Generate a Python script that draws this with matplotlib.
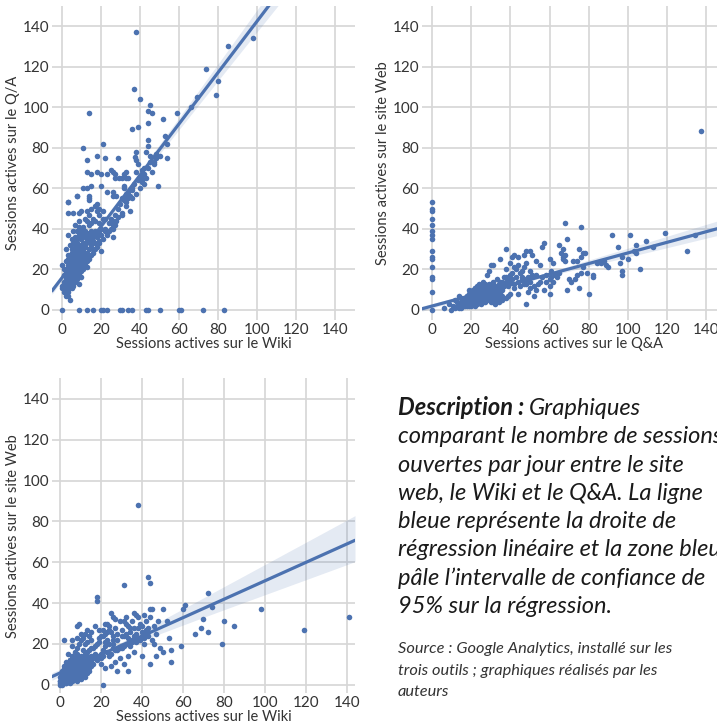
import numpy as np
import matplotlib
matplotlib.use("Agg")
import matplotlib.pyplot as plt
import seaborn as sns

# ---------------- data ----------------
# Panel 1 : Wiki (x) vs Q/A (y)
wiki_qa_x = [38, 37, 40, 14, 45, 44, 46, 52, 59, 44, 36, 39, 44, 44, 53, 21, 11, 13, 18, 22, 29, 38, 37.5, 38, 39, 43, 45, 54,
             13, 15, 18, 20, 23, 25, 26, 27, 29.5, 32, 33, 31, 33, 38, 41, 41.5, 27, 11, 13, 15, 20, 23, 26, 28, 31.6, 32, 34,
             40.5, 49, 8, 3, 14, 14, 18, 31, 33, 36, 41, 36, 42, 45, 48, 54, 50, 66, 69, 74, 79, 80, 85, 98, 40, 42, 47,
             0, 9, 13, 16, 20, 21, 23, 30, 31, 34, 36, 43, 44, 50, 60, 61, 72, 83,
             3, 8, 14, 26, 32, 34, 3, 6, 9, 10, 13, 15, 17, 19, 18, 21, 14, 12, 9, 7, 9, 11, 14, 15, 19, 6, 8, 10, 13, 15, 17,
             3, 5, 8, 10, 13, 16, 7, 4, 2, 5, 9, 11, 14, 20, 26, 26, 26, 26, 35, 33, 3, 6, 9, 11, 14, 4, 7, 9, 3, 6, 9, 3, 5,
             8, 10, 3, 6, 3, 5, 2, 4, 0, 3, 2, 3, 4, 2, 1, 0, 1, 9,
             5, 7, 8, 10, 12, 6, 8, 10, 12, 4, 7, 11, 12, 13, 15, 16, 18, 20, 22, 24, 19, 17, 21, 11, 9, 7, 6, 5, 2, 4, 6, 7,
             8, 10, 14, 12, 16, 19, 22, 13,
             1, 2, 2, 3, 3, 3, 4, 4, 4, 4, 5, 5, 5, 5, 5, 6, 6, 6, 6, 6, 7, 7, 7, 7, 7, 8, 8, 8, 8, 8, 9, 9, 9, 9, 10, 10, 10,
             10, 11, 11, 11, 12, 12, 12, 13, 13, 14, 14, 15, 16, 2, 3, 4, 5, 6, 7, 8, 9, 10, 11, 4, 5, 6, 7, 8, 9, 6, 7, 8,
             16, 17, 18, 19, 20, 22, 23, 24, 25, 27, 28, 29, 30, 31, 32, 33, 34, 35, 36, 37, 38, 39, 40, 41, 42, 43, 44, 46,
             47, 48,
             2, 3, 3, 4, 4, 5, 5, 5, 6, 6, 6, 7, 7, 7, 8, 8, 8, 9, 9, 9, 10, 10, 11, 11, 12, 12, 13, 13, 14, 15, 2, 3, 4, 5,
             6, 7, 8, 1, 1, 0, 16, 17, 18, 19, 21, 23, 25, 27, 29, 31]
wiki_qa_y = [137, 109, 104, 97, 101, 98, 97, 94, 97, 92, 89, 90, 84, 81, 86, 82, 80, 74, 76, 75, 75, 78, 75.6, 74, 72, 78, 76, 75,
             68, 67, 68, 67, 67, 69, 68, 67, 65, 67, 68, 65, 65, 68, 69, 67, 65, 60, 60, 61, 61, 58, 58, 56, 60, 61, 65,
             65, 61, 56, 53, 56, 54, 52, 55, 57, 59, 64, 55, 70, 73, 77, 82, 76, 100, 105, 119, 106, 113, 130, 134, 60, 62, 73,
             0, 0, 0, 0, 0, 0, 0, 0, 0, 0, 0, 0, 0, 0, 0, 0, 0, 0,
             53, 56, 55, 56, 55, 55, 48, 48, 48, 49, 49, 50, 51, 50, 49, 49, 47, 45, 44, 42, 41, 41, 42, 43, 43, 39, 39, 39, 38, 39, 39,
             37, 35, 35, 35, 34, 34, 33, 32, 30, 30, 30, 30, 30, 29, 36, 42, 40, 44, 49, 53, 27, 27, 26, 26, 26, 25, 25, 24, 22, 22, 21, 20, 20,
             19, 16, 17, 16, 15, 14, 12, 12, 11, 10, 7, 7, 5, 24, 20, 22, 17, 13,
             28, 29, 31, 32, 33, 24, 22, 25, 28, 19, 21, 22, 24, 27, 32, 36, 38, 40, 39, 39, 39, 44, 45, 37, 37, 36, 33, 26, 18, 14, 12, 17,
             27, 28, 36, 39, 45, 47, 45, 44,
             14, 16, 19, 18, 21, 25, 17, 20, 23, 27, 15, 19, 22, 24, 28, 18, 21, 23, 26, 30, 20, 22, 24, 27, 31, 19, 23, 25, 28, 33,
             22, 26, 29, 32, 24, 27, 30, 35, 25, 29, 33, 26, 31, 36, 28, 34, 30, 37, 33, 38, 15, 17, 18, 20, 19, 21, 20, 22, 23, 24,
             13, 12, 14, 16, 17, 18, 25, 26, 21,
             30, 33, 36, 34, 37, 40, 38, 43, 45, 47, 44, 50, 52, 48, 54, 51, 58, 56, 60, 62, 57, 64, 66, 63, 67, 65, 70, 68, 72, 75,
             10, 12, 9, 13, 16, 11, 14, 17, 13, 15, 18, 14, 16, 20, 15, 18, 21, 17, 20, 23, 19, 22, 20, 24, 22, 26, 24, 21, 25, 27,
             14, 16, 18, 20, 20, 23, 24, 9, 13, 12, 28, 30, 31, 33, 35, 37, 40, 42, 46, 47]

# Panel 2 : Q&A (x) vs site Web (y)
qa_web_x = [0, 0, 0, 0, 0, 0, 0, 0, 0, 0, 0, 0, 0, 0, 0, 0,
            137,
            68, 76, 69, 57, 56, 65, 67, 75, 92, 101, 109, 119, 134, 104, 95, 130, 113, 84, 86, 89, 88, 90, 96, 97, 100, 103,
            104, 97, 97, 106, 82, 82, 80, 69, 75, 73, 70, 74, 76, 77, 79, 71, 78, 77, 76, 72, 74, 68, 67, 67, 68, 66, 62, 60,
            38, 42, 41, 44, 48, 50, 51, 47, 53, 55, 65, 63, 61, 60, 60, 60, 58, 56, 55, 54, 52, 53, 52, 50, 49, 48, 47, 46,
            45, 44, 43, 41, 40, 39, 38, 37, 36, 35, 34, 33, 32, 31, 30, 29, 28, 27, 26, 25, 24, 23, 22, 21, 20, 19, 18, 17,
            16, 15, 14, 13, 12, 11, 10, 6, 9, 28, 30, 31, 29, 35, 38, 40, 42, 46, 47, 48, 49, 50, 51, 53, 58, 61, 62, 64, 57,
            44, 42, 39, 36, 34,
            18, 19, 20, 21, 22, 23, 24, 25, 26, 27, 22, 20, 17, 16, 18, 21, 23, 25, 27, 28, 29, 30, 31, 33, 32, 34, 35, 37,
            24, 26, 19, 15, 14,
            14, 15, 16, 16, 17, 17, 18, 18, 18, 19, 19, 19, 20, 20, 20, 20, 21, 21, 21, 21, 22, 22, 22, 22, 23, 23, 23, 24, 24,
            24, 25, 25, 25, 26, 26, 26, 27, 27, 28, 28, 29, 29, 30, 30, 31, 32, 33, 34, 35, 36, 17, 19, 21, 23, 25, 27, 29, 31,
            33, 22, 24, 26, 20, 18, 16,
            14, 15, 16, 17, 17, 18, 18, 19, 19, 20, 20, 21, 21, 22, 22, 23, 23, 24, 24, 25, 25, 26, 26, 27, 27, 28, 28, 29,
            30, 30, 31, 32, 33, 34, 35, 36, 38, 40, 13, 12,
            25, 27, 29, 30, 31, 32, 33, 34, 35, 36, 37, 38, 39, 40, 41, 42, 43, 44, 45, 46, 47, 48, 49, 50, 26]
qa_web_y = [0, 9, 15, 16, 21, 25, 26, 29, 35, 37, 39, 42, 45, 49, 50, 53,
            88,
            43, 41, 35, 33, 31, 32, 30, 30, 37, 37, 34, 38, 37, 32, 31, 29, 31, 23, 23, 22, 24, 21, 23, 26, 25, 29,
            28, 19, 17, 20, 17, 16, 8, 10, 11, 15, 15, 17, 18, 21, 18, 14, 28, 28, 26, 24, 24, 27, 26, 25, 24, 28, 23, 25,
            30, 27, 26, 26, 29, 29, 27, 27, 24, 22, 18, 17, 19, 15, 12, 8, 17, 16, 14, 13, 12, 10, 7, 11, 9, 3, 13, 15,
            18, 22, 20, 18, 17, 15, 14, 12, 11, 9, 7, 5, 3, 4, 6, 9, 11, 13, 14, 12, 10, 9, 8, 7, 6, 5, 4, 3,
            2, 1, 3, 4, 5, 2, 0, 1, 3, 17, 22, 22, 19, 25, 20, 23, 21, 19, 21, 23, 16, 19, 17, 17, 14, 16, 14, 16, 10,
            8, 11, 7, 5, 4,
            7, 8, 9, 10, 11, 6, 7, 8, 9, 10, 5, 3, 6, 5, 2, 4, 12, 5, 7, 8, 12, 10, 13, 11, 8, 12, 14, 16,
            13, 4, 10, 6, 7,
            2, 4, 3, 5, 4, 6, 3, 5, 7, 4, 6, 8, 5, 7, 9, 3, 6, 8, 4, 10, 5, 7, 9, 11, 6, 8, 10, 7, 9,
            12, 6, 8, 11, 7, 10, 13, 8, 12, 9, 11, 7, 10, 8, 12, 9, 10, 11, 9, 12, 10, 5, 6, 7, 5, 6, 9, 6, 7,
            8, 6, 5, 6, 4, 3, 4,
            1, 3, 2, 2, 4, 3, 5, 2, 4, 2, 4, 3, 5, 2, 4, 3, 5, 4, 6, 3, 6, 5, 7, 4, 6, 5, 7, 6,
            4, 7, 6, 5, 7, 6, 8, 7, 6, 8, 2, 1,
            11, 12, 13, 11, 14, 12, 15, 13, 11, 14, 13, 16, 12, 14, 15, 13, 16, 14, 12, 16, 15, 13, 15, 14, 10]

# Panel 3 : Wiki (x) vs site Web (y)
wiki_web_x = [38, 43, 44, 31, 18, 18, 72, 61, 60, 50, 44, 45, 36, 37, 25, 26, 27, 22, 23, 17, 8, 9, 31, 32, 34, 38, 40, 42, 43,
              98, 80, 85, 70, 69, 72, 66, 59, 79, 119, 141, 74, 2, 52, 53, 54, 54, 44, 47, 49, 50, 45, 41, 40, 36, 35, 33,
              33, 31, 28, 33, 21, 22, 25, 27, 29, 28, 26, 24, 21, 20, 19, 18, 17, 16, 15, 14, 13, 12, 11, 12, 11, 10, 9, 8,
              7, 6, 5, 4, 3, 2, 1, 0, 1,
              2, 3, 4, 5, 6, 7, 8, 9, 10, 5, 6, 7, 8, 9, 10, 11, 12, 13, 14, 15, 3, 4, 6, 8, 10, 12, 14, 16, 18, 20, 13, 15,
              17, 19, 21, 23, 11, 9, 7, 5, 3, 2, 1, 4, 6, 10, 12, 14, 16, 20, 24, 26, 30, 32, 36, 38, 40, 42, 46, 34, 30, 22,
              28, 24, 19, 15, 13, 8, 6,
              0, 1, 1, 2, 2, 2, 3, 3, 3, 3, 4, 4, 4, 4, 5, 5, 5, 5, 5, 6, 6, 6, 6, 7, 7, 7, 7, 8, 8, 8, 8, 9, 9, 9, 10, 10, 10,
              11, 11, 12, 12, 13, 13, 14, 15, 16, 1, 2, 3, 4, 5, 6, 7, 8, 9, 10, 11, 12, 3, 4, 5, 6, 7, 8, 9, 2, 4, 6, 8,
              15, 17, 19, 21, 23, 25, 27, 29, 31, 33, 35, 37, 39, 41, 43,
              0, 0, 1, 1, 1, 2, 2, 2, 3, 3, 3, 4, 4, 4, 5, 5, 5, 5, 6, 6, 6, 7, 7, 7, 8, 8, 8, 9, 9, 10, 10, 11, 11, 12, 12,
              13, 14, 15, 2, 3, 4, 6, 8, 10, 12, 1, 0, 2, 4, 6,
              20, 21, 22, 23, 24, 25, 26, 27, 28, 29, 30, 31, 32, 33, 34, 35, 36, 37, 38, 39, 40, 41, 42, 43, 44, 46, 47, 48,
              22, 26]
wiki_web_y = [88, 53, 50, 49, 43, 41, 45, 39, 37, 37, 37, 37, 35, 34, 35, 33, 32, 30, 30, 29, 29, 30, 31, 30, 28, 28, 29, 27, 28,
              37, 31, 29, 32, 28, 26, 25, 19, 20, 27, 33, 38, 22, 31, 23, 17, 11, 10, 14, 18, 16, 22, 20, 14, 16, 22, 23,
              14, 10, 7, 7, 0, 8, 9, 11, 13, 17, 18, 20, 17, 15, 21, 20, 15, 18, 22, 24, 27, 25, 23, 20, 17, 14, 12, 15,
              10, 8, 9, 7, 5, 4, 2, 1, 3,
              6, 8, 10, 12, 14, 16, 18, 20, 22, 4, 5, 6, 7, 8, 9, 10, 11, 12, 13, 14, 2, 3, 3, 4, 5, 6, 8, 10, 12, 13, 16, 18,
              19, 23, 24, 26, 13, 10, 12, 6, 11, 9, 7, 15, 19, 25, 15, 17, 14, 10, 14, 24, 24, 25, 24, 22, 26, 24, 20, 19, 18, 21,
              22, 27, 27, 26, 21, 23, 22,
              2, 1, 4, 2, 5, 7, 1, 3, 6, 9, 2, 4, 6, 10, 3, 5, 7, 9, 12, 2, 4, 8, 11, 3, 6, 9, 13, 4, 7, 10, 14, 5, 8, 12, 6, 9, 13,
              7, 11, 8, 12, 9, 14, 10, 11, 13, 3, 3, 4, 5, 6, 5, 7, 8, 6, 8, 9, 10, 2, 3, 4, 4, 5, 6, 7, 1, 2, 3, 5,
              12, 13, 14, 14, 16, 15, 17, 18, 19, 20, 21, 21, 22, 23, 24,
              0, 2, 1, 3, 5, 2, 3, 6, 1, 4, 7, 2, 5, 8, 1, 3, 6, 8, 2, 4, 7, 3, 5, 8, 2, 5, 8, 4, 6, 3, 7, 5, 8, 4, 9,
              6, 7, 9, 1, 3, 4, 6, 6, 10, 7, 0, 4, 8, 9, 10,
              24, 27, 25, 22, 29, 26, 22, 28, 25, 31, 27, 24, 33, 29, 26, 31, 28, 25, 33, 30, 24, 34, 31, 26, 33, 29, 25, 31,
              19, 20]

ticks = [0, 20, 40, 60, 80, 100, 120, 140]
label_wiki = "Sessions actives sur le Wiki"
label_qa_y = "Sessions actives sur le Q/A"
label_qa_x = "Sessions actives sur le Q&A"
label_web = "Sessions actives sur le site Web"


# ---------------- robust (Huber) linear regression, as seaborn's robust=True ----------------
def huber_fit(x, y, t=1.345, iters=30):
    X = np.column_stack([np.ones_like(x), x])
    beta = np.linalg.lstsq(X, y, rcond=None)[0]
    for _ in range(iters):
        r = y - X @ beta
        s = np.median(np.abs(r - np.median(r))) / 0.6745
        if s <= 0:
            break
        u = np.abs(r / s)
        w = np.where(u <= t, 1.0, t / np.maximum(u, 1e-12))
        sw = np.sqrt(w)
        beta = np.linalg.lstsq(X * sw[:, None], y * sw, rcond=None)[0]
    return beta


def robust_band(x, y, grid, n_boot=300, seed=3):
    rng = np.random.default_rng(seed)
    beta = huber_fit(x, y)
    yhat = beta[0] + beta[1] * grid
    boots = []
    n = len(x)
    for _ in range(n_boot):
        idx = rng.integers(0, n, n)
        b = huber_fit(x[idx], y[idx], iters=15)
        boots.append(b[0] + b[1] * grid)
    boots = np.array(boots)
    lo, hi = np.percentile(boots, [2.5, 97.5], axis=0)
    return yhat, lo, hi


# ---------------- style ----------------
sns.set_style("whitegrid")
plt.rcParams["font.family"] = ["Lato", "DejaVu Sans"]

BLUE = "#4c72b0"
GRID = "#d6d6d6"
TXT = "#333333"

fig = plt.figure(figsize=(7.17, 7.27), dpi=100)

panels = [
    (wiki_qa_x, wiki_qa_y, [0.0725, 0.5598, 0.4226, 0.4323], (-5, 150), (-5, 150), label_wiki, label_qa_y),
    (qa_web_x, qa_web_y, [0.5886, 0.5598, 0.4240, 0.4323], (-5, 150), (-5, 150), label_qa_x, label_web),
    (wiki_web_x, wiki_web_y, [0.0725, 0.0468, 0.4226, 0.4326], (-4, 144), (-4, 150), label_wiki, label_web),
]

for x, y, rect, xl, yl, xlab, ylab in panels:
    x = np.asarray(x, float)
    y = np.asarray(y, float)
    ax = fig.add_axes(rect)
    ax.scatter(x, y, s=16, color=BLUE, linewidths=0, zorder=2)
    grid = np.linspace(xl[0], xl[1], 100)
    yhat, lo, hi = robust_band(x, y, grid)
    ax.fill_between(grid, lo, hi, color=BLUE, alpha=0.15, linewidth=0, zorder=1)
    ax.plot(grid, yhat, color=BLUE, lw=2.3, zorder=3)
    ax.set_xlim(*xl)
    ax.set_ylim(*yl)
    ax.set_xticks(ticks)
    ax.set_yticks(ticks)
    for s in ax.spines.values():
        s.set_visible(False)
    ax.grid(True, color=GRID, lw=1.2)
    ax.set_axisbelow(True)
    ax.tick_params(length=0, pad=2, labelsize=11, labelcolor=TXT)
    ax.set_xlabel(xlab, fontsize=10.5, color=TXT, labelpad=0)
    ax.set_ylabel(ylab, fontsize=10.5, color=TXT, labelpad=2)

# ---------------- description text ----------------
W, H = 717.0, 727.0

def px(x, y):
    return x / W, 1 - y / H

desc_lines = [
    "comparant le nombre de sessions",
    "ouvertes par jour entre le site",
    "web, le Wiki et le Q&A. La ligne",
    "bleue représente la droite de",
    "régression linéaire et la zone bleue",
    "pâle l’intervalle de confiance de",
    "95% sur la régression.",
]
fs_desc = 17
t0 = fig.text(*px(398, 415), "Description :", fontsize=fs_desc, fontstyle="italic",
              fontweight="bold", color="#1a1a1a", va="baseline", ha="left")
renderer = fig.canvas.get_renderer()
bb = t0.get_window_extent(renderer=renderer)
fig.text(bb.x1 / W + 5 / W, 1 - 415 / H, "Graphiques", fontsize=fs_desc, fontstyle="italic",
         color="#1a1a1a", va="baseline", ha="left")
for i, line in enumerate(desc_lines):
    fig.text(*px(398, 415 + 28.3 * (i + 1)), line, fontsize=fs_desc, fontstyle="italic",
             color="#1a1a1a", va="baseline", ha="left")

src_lines = [
    "Source : Google Analytics, installé sur les",
    "trois outils ; graphiques réalisés par les",
    "auteurs",
]
for i, line in enumerate(src_lines):
    fig.text(*px(398, 653 + 21.7 * i), line, fontsize=11.8, fontstyle="italic",
             color="#333333", va="baseline", ha="left")

fig.savefig("out.png", dpi=100)
